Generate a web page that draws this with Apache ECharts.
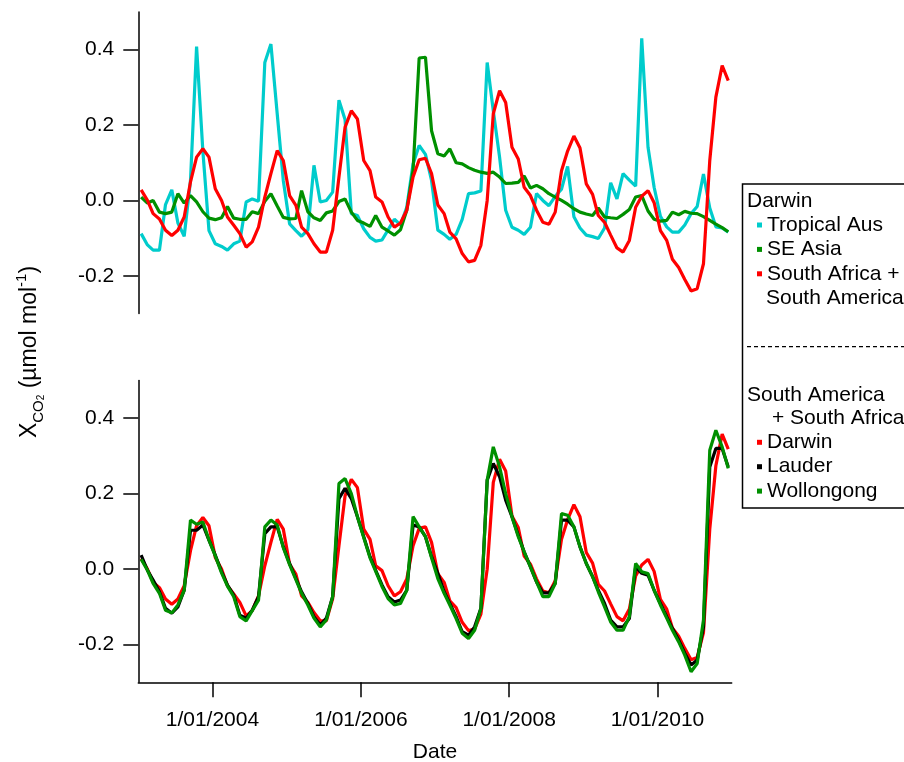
<!DOCTYPE html>
<html>
<head>
<meta charset="utf-8">
<script src="https://cdn.jsdelivr.net/npm/echarts@6/dist/echarts.min.js"></script>
<style>
html,body{margin:0;padding:0;background:#fff;}
#chart{width:904px;height:762px;}
</style>
</head>
<body>
<div id="chart"></div>
<script>
// ---------- DATA ----------
const firstYear = 2003;
const monthCount = 96; // Jan 2003 .. Dec 2010, mid-month samples
const monthDates = [];
for (let i = 0; i < monthCount; i++) {
  const y = firstYear + Math.floor(i / 12), m = (i % 12) + 1;
  monthDates.push(y + '-' + String(m).padStart(2, '0') + '-15');
}

const xTickYears = [2004, 2006, 2008, 2010];
const xTickLabels = ['1/01/2004', '1/01/2006', '1/01/2008', '1/01/2010'];
const yTickValues = [-0.2, 0.0, 0.2, 0.4];

// Top panel: Darwin
const tropicalAus = [
-0.088,-0.118,-0.132,-0.132,-0.011,0.028,-0.060,-0.095,0.053,0.408,0.130,-0.080,
-0.115,-0.122,-0.132,-0.115,-0.108,-0.004,0.004,-0.002,0.366,0.415,0.230,0.053,
-0.062,-0.080,-0.095,-0.078,0.093,-0.004,0.000,0.022,0.266,0.215,-0.035,-0.040,
-0.075,-0.098,-0.108,-0.105,-0.078,-0.050,-0.065,-0.018,0.097,0.146,0.122,0.053,
-0.079,-0.090,-0.103,-0.090,-0.050,0.018,0.020,0.025,0.366,0.238,0.115,-0.026,
-0.071,-0.079,-0.090,-0.071,0.018,0.000,-0.014,0.011,0.030,0.090,-0.043,-0.073,
-0.092,-0.096,-0.101,-0.073,0.047,0.004,0.071,0.054,0.038,0.430,0.141,0.035,
-0.042,-0.070,-0.084,-0.084,-0.065,-0.035,-0.016,0.070,-0.020,-0.070,-0.073,-0.084];

const seAsia = [
0.009,-0.007,0.000,-0.031,-0.035,-0.031,0.018,-0.007,0.013,-0.004,-0.030,-0.047,
-0.051,-0.046,-0.016,-0.047,-0.050,-0.050,-0.030,-0.035,-0.002,0.018,-0.015,-0.045,
-0.049,-0.048,0.026,-0.030,-0.046,-0.053,-0.033,-0.028,-0.003,0.004,-0.031,-0.053,
-0.060,-0.069,-0.040,-0.071,-0.081,-0.092,-0.078,-0.026,0.080,0.378,0.380,0.185,
0.124,0.118,0.137,0.100,0.097,0.087,0.080,0.075,0.072,0.075,0.062,0.045,
0.046,0.048,0.065,0.033,0.040,0.031,0.018,0.009,0.000,-0.010,-0.022,-0.031,
-0.036,-0.040,-0.020,-0.044,-0.046,-0.048,-0.037,-0.024,0.009,0.013,-0.028,-0.050,
-0.055,-0.053,-0.031,-0.038,-0.029,-0.034,-0.035,-0.043,-0.053,-0.063,-0.072,-0.083];

// Darwin, South Africa + South America (shown in both panels)
const darwinSAfrSAm = [
0.028,0.000,-0.035,-0.049,-0.079,-0.093,-0.079,-0.044,0.049,0.115,0.137,0.115,
0.031,0.000,-0.044,-0.066,-0.088,-0.124,-0.110,-0.071,0.009,0.071,0.132,0.106,
0.013,-0.013,-0.071,-0.088,-0.115,-0.137,-0.137,-0.079,0.062,0.194,0.238,0.216,
0.106,0.079,0.009,-0.004,-0.044,-0.071,-0.060,-0.026,0.062,0.108,0.112,0.071,
-0.012,-0.035,-0.084,-0.102,-0.141,-0.163,-0.159,-0.119,0.000,0.230,0.291,0.260,
0.141,0.110,0.035,0.013,-0.026,-0.058,-0.063,-0.031,0.079,0.131,0.171,0.139,
0.044,0.016,-0.040,-0.058,-0.092,-0.126,-0.137,-0.106,-0.018,0.011,0.026,-0.006,
-0.080,-0.106,-0.156,-0.178,-0.210,-0.240,-0.234,-0.168,0.106,0.274,0.358,0.318];

// Bottom panel: South America + South Africa
const lauder = [
0.037,-0.003,-0.029,-0.060,-0.104,-0.117,-0.100,-0.056,0.103,0.103,0.117,0.077,
0.037,-0.007,-0.042,-0.069,-0.122,-0.130,-0.109,-0.073,0.094,0.112,0.112,0.059,
0.015,-0.025,-0.060,-0.091,-0.126,-0.148,-0.130,-0.073,0.187,0.214,0.187,0.139,
0.086,0.033,-0.003,-0.042,-0.073,-0.087,-0.082,-0.056,0.117,0.112,0.086,0.033,
-0.011,-0.060,-0.091,-0.126,-0.166,-0.175,-0.153,-0.104,0.236,0.280,0.245,0.183,
0.139,0.090,0.046,0.006,-0.034,-0.063,-0.063,-0.038,0.130,0.130,0.112,0.059,
0.015,-0.020,-0.056,-0.091,-0.135,-0.153,-0.153,-0.131,0.006,-0.011,-0.016,-0.056,
-0.091,-0.126,-0.157,-0.188,-0.223,-0.254,-0.241,-0.153,0.271,0.320,0.320,0.271];

const wollongong = [
0.026,-0.003,-0.038,-0.064,-0.109,-0.116,-0.095,-0.056,0.130,0.119,0.125,0.077,
0.035,-0.010,-0.045,-0.073,-0.126,-0.137,-0.110,-0.082,0.112,0.130,0.117,0.057,
0.012,-0.028,-0.064,-0.095,-0.130,-0.153,-0.135,-0.073,0.227,0.240,0.200,0.139,
0.084,0.030,-0.006,-0.046,-0.078,-0.095,-0.091,-0.056,0.139,0.112,0.086,0.030,
-0.025,-0.064,-0.095,-0.131,-0.170,-0.184,-0.162,-0.104,0.236,0.324,0.271,0.200,
0.139,0.086,0.046,0.006,-0.034,-0.073,-0.073,-0.038,0.147,0.143,0.112,0.059,
0.015,-0.020,-0.060,-0.100,-0.140,-0.162,-0.162,-0.126,0.015,-0.007,-0.012,-0.056,
-0.095,-0.130,-0.162,-0.193,-0.228,-0.272,-0.250,-0.135,0.315,0.368,0.324,0.267];

// ---------- CHART ----------
const FONT = '"Liberation Sans", Arial, Helvetica, sans-serif';
const FS = 21;
const C_CYAN = '#00CCCC', C_GREEN = '#009000', C_RED = '#FF0000', C_BLACK = '#000000';

function toTime(s) { const p = s.split('-').map(Number); return new Date(p[0], p[1] - 1, p[2]).getTime(); }
const monthTimes = monthDates.map(toTime);
function pairs(vals) { return vals.map((v, i) => [monthTimes[i], v]); }
const xMin = new Date(2003, 0, 1).getTime();
const xMax = new Date(2011, 0, 1).getTime();
const xTickValues = xTickYears.map(y => new Date(y, 0, 1).getTime());

function lineSeries(name, color, vals, idx) {
  return {
    name: name, type: 'line', xAxisIndex: idx, yAxisIndex: idx,
    data: pairs(vals), showSymbol: false, symbol: 'none',
    lineStyle: { color: color, width: 3.2 }, itemStyle: { color: color },
    emphasis: { disabled: true }, animation: false
  };
}

function xAxisDef(idx, visible) {
  return {
    type: 'value', gridIndex: idx, min: xMin, max: xMax,
    axisLine: { show: visible, onZero: false, lineStyle: { color: '#000', width: 1.5 } },
    axisTick: { show: visible, inside: false, length: 15, customValues: xTickValues, lineStyle: { color: '#000', width: 1.5 } },
    axisLabel: { show: visible, customValues: xTickValues, margin: 27, color: '#000', fontSize: FS, fontFamily: FONT,
      formatter: function (v) { const y = new Date(v).getFullYear(); return xTickLabels[xTickYears.indexOf(y)] || ''; } },
    splitLine: { show: false },
    name: visible ? 'Date' : '', nameLocation: 'middle', nameGap: 59,
    nameTextStyle: { color: '#000', fontSize: FS, fontFamily: FONT }
  };
}

function yAxisDef(idx) {
  return {
    type: 'value', gridIndex: idx, min: -0.3, max: 0.5,
    axisLine: { show: true, onZero: false, lineStyle: { color: '#000', width: 1.5 } },
    axisTick: { show: true, inside: false, length: 15, customValues: yTickValues, lineStyle: { color: '#000', width: 1.5 } },
    axisLabel: { customValues: yTickValues, margin: 24, color: '#000', fontSize: FS, fontFamily: FONT,
      formatter: function (v) { return v.toFixed(1); } },
    splitLine: { show: false }
  };
}

const chart = echarts.init(document.getElementById('chart'), null, { renderer: 'canvas' });
const legendText = { color: '#000', fontSize: FS, fontFamily: FONT, lineHeight: 24.4 };

chart.setOption({
  backgroundColor: '#ffffff',
  animation: false,
  grid: [
    { left: 138.3, top: 12, width: 593.4, height: 301.5, containLabel: false, outerBoundsMode: 'none' },
    { left: 138.3, top: 380.5, width: 593.4, height: 301.8, containLabel: false, outerBoundsMode: 'none' }
  ],
  xAxis: [xAxisDef(0, false), xAxisDef(1, true)],
  yAxis: [yAxisDef(0), yAxisDef(1)],
  legend: [
    { data: ['Tropical Aus', 'SE Asia', 'South Africa +\nSouth America'], orient: 'vertical',
      left: 757, top: 212.8, padding: 0, itemGap: 0, itemWidth: 5, itemHeight: 5, icon: 'rect',
      selectedMode: false, textStyle: legendText,
      formatter: function (n) { return n.split('\n')[0]; } },
    { data: ['Darwin', 'Lauder', 'Wollongong'], orient: 'vertical',
      left: 757, top: 430.1, padding: 0, itemGap: 0, itemWidth: 5, itemHeight: 5, icon: 'rect',
      selectedMode: false, textStyle: legendText }
  ],
  graphic: [
    { type: 'rect', z: -1, shape: { x: 742.5, y: 184, width: 200, height: 324 },
      style: { fill: '#fff', stroke: '#000', lineWidth: 1.5 } },
    { type: 'text', x: 747, y: 201.5, style: { text: 'Darwin', fill: '#000', font: FS + 'px ' + FONT, verticalAlign: 'middle' } },
    { type: 'text', x: 766, y: 298, style: { text: 'South America', fill: '#000', font: FS + 'px ' + FONT, verticalAlign: 'middle' } },
    { type: 'line', shape: { x1: 747, y1: 346.7, x2: 904, y2: 346.7 },
      style: { stroke: '#000', lineWidth: 1.2, lineDash: [4, 3] } },
    { type: 'text', x: 747, y: 395, style: { text: 'South America', fill: '#000', font: FS + 'px ' + FONT, verticalAlign: 'middle' } },
    { type: 'text', x: 772, y: 418.5, style: { text: '+ South Africa', fill: '#000', font: FS + 'px ' + FONT, verticalAlign: 'middle' } },
    { type: 'text', x: 30, y: 352, rotation: Math.PI / 2,
      style: {
        text: '{n|X}{s|CO}{ss|2}{n| (µmol mol}{sup|-1}{n|)}',
        align: 'center', verticalAlign: 'middle', fill: '#000',
        rich: {
          n: { fontSize: 23, fontFamily: FONT, lineHeight: 32, verticalAlign: 'middle', fill: '#000' },
          s: { fontSize: 15, fontFamily: FONT, lineHeight: 16, verticalAlign: 'bottom', fill: '#000' },
          ss: { fontSize: 10, fontFamily: FONT, lineHeight: 8, verticalAlign: 'bottom', fill: '#000' },
          sup: { fontSize: 15, fontFamily: FONT, lineHeight: 14, verticalAlign: 'top', fill: '#000' }
        }
      } }
  ],
  series: [
    lineSeries('Tropical Aus', C_CYAN, tropicalAus, 0),
    lineSeries('SE Asia', C_GREEN, seAsia, 0),
    lineSeries('South Africa +\nSouth America', C_RED, darwinSAfrSAm, 0),
    lineSeries('Darwin', C_RED, darwinSAfrSAm, 1),
    lineSeries('Lauder', C_BLACK, lauder, 1),
    lineSeries('Wollongong', C_GREEN, wollongong, 1)
  ]
});
</script>
</body>
</html>
